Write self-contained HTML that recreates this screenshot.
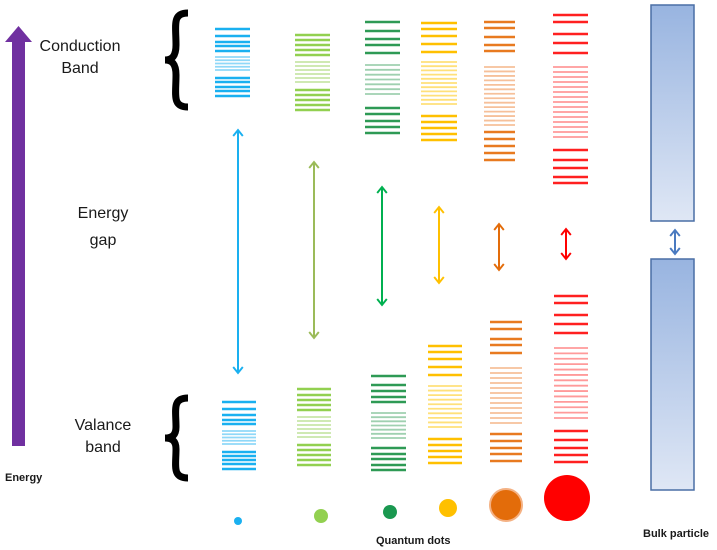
<!DOCTYPE html>
<html><head><meta charset="utf-8"><style>
html,body{margin:0;padding:0;background:#fff;width:717px;height:550px;overflow:hidden}
svg{display:block}
text{font-family:"Liberation Sans",sans-serif;fill:#1a1a1a}
</style></head><body>
<svg id="s" width="717" height="550" viewBox="0 0 717 550" xmlns="http://www.w3.org/2000/svg">
<defs>
<linearGradient id="g" x1="0" y1="0" x2="0" y2="1"><stop offset="0" stop-color="#98b4e0"/><stop offset="1" stop-color="#dfe7f5"/></linearGradient>
<marker id="m" viewBox="0 0 10 10" refX="6" refY="5" markerWidth="6" markerHeight="6" orient="auto-start-reverse"><path d="M1,1 L6,5 L1,9" fill="none" stroke="context-stroke" stroke-width="1.6"/></marker>
</defs>
<rect x="12" y="40" width="13" height="406" fill="#7030a0"/>
<polygon points="5,42 18.5,26 32,42" fill="#7030a0"/>
<text x="80" y="51" font-size="16" text-anchor="middle">Conduction</text>
<text x="80" y="73" font-size="16" text-anchor="middle">Band</text>
<text x="103" y="218" font-size="16" text-anchor="middle">Energy</text>
<text x="103" y="245" font-size="16" text-anchor="middle">gap</text>
<text x="103" y="430" font-size="16" text-anchor="middle">Valance</text>
<text x="103" y="452" font-size="16" text-anchor="middle">band</text>
<text x="5" y="481" font-size="11" font-weight="bold">Energy</text>
<text x="376" y="544" font-size="11" font-weight="bold">Quantum dots</text>
<text x="643" y="537" font-size="11" font-weight="bold">Bulk particle</text>
<path d="M188,13 C172,13 176,25 176,45 C176,56 172,60 165,60 C172,60 176,64 176,75 C176,95 172,107 188,107" fill="none" stroke="#000" stroke-width="7"/>
<path d="M188,398 C172,398 176,410 176,427 C176,435 172,438 165,438 C172,438 176,441 176,449 C176,466 172,478 188,478" fill="none" stroke="#000" stroke-width="7"/>
<rect x="651" y="5" width="43" height="216" fill="url(#g)" stroke="#4a6fa5" stroke-width="1.5"/>
<rect x="651" y="259" width="43" height="231" fill="url(#g)" stroke="#4a6fa5" stroke-width="1.5"/>
<line x1="675" y1="230" x2="675" y2="254" stroke="#4a7ac0" stroke-width="2" marker-start="url(#m)" marker-end="url(#m)"/>
<circle cx="238" cy="521" r="4" fill="#1ab0f0"/>
<circle cx="321" cy="516" r="7" fill="#92d050"/>
<circle cx="390" cy="512" r="7" fill="#1a9850"/>
<circle cx="448" cy="508" r="9" fill="#ffc000"/>
<circle cx="506" cy="505" r="16" fill="#e36c0a" stroke="#f4b183" stroke-width="2"/>
<circle cx="567" cy="498" r="23" fill="#ff0000"/>
<g id="L"></g>
</svg>
<script>
var L=document.getElementById('L'),h='';
function ln(x1,x2,ys,c,w){ys.forEach(function(y){h+='<line x1="'+x1+'" x2="'+x2+'" y1="'+y+'" y2="'+y+'" stroke="'+c+'" stroke-width="'+w+'"/>';});}
function rng(a,b,n){var r=[];for(var i=0;i<n;i++)r.push(a+(b-a)*i/(n-1));return r;}
function col(x1,x2,d,l,top,l1,l2,ln2,bot){ln(x1,x2,top,d,2.5);ln(x1,x2,rng(l1,l2,ln2),l,1.8);ln(x1,x2,bot,d,2.5);}
col(215,250,'#1ab0f0','#8fd8f8',[29,36,42,46,51],57,70,5,[78,82,87,91,96]);
col(295,330,'#92d050','#c8e6a8',[35,40,45,50,55],62,82,6,[90,95,100,105,110]);
col(365,400,'#2e9a55','#9fd0b0',[22,31,39,45,53],65,94,7,[108,114,121,127,133]);
col(421,457,'#ffc000','#ffe07a',[23,29,36,44,52],62,104,11,[116,122,128,134,140]);
col(484,515,'#e87a20','#f6c09a',[22,28,37,45,51],67,125,14,[132,139,146,153,160]);
col(553,588,'#ff2020','#ff9a9a',[15,22,34,43,53],67,137,15,[150,160,168,177,183]);
col(222,256,'#1ab0f0','#8fd8f8',[402,409,415,420,424],431,444,5,[452,456,460,464,469]);
col(297,331,'#92d050','#c8e6a8',[389,395,400,405,410],417,437,6,[445,450,455,460,465]);
col(371,406,'#2e9a55','#9fd0b0',[376,385,391,397,402],413,438,7,[448,454,459,465,470]);
col(428,462,'#ffc000','#ffe07a',[346,352,359,367,375],386,427,10,[439,445,451,457,463]);
col(490,522,'#e87a20','#f6c09a',[322,329,339,345,353],368,423,12,[434,441,448,454,461]);
col(554,588,'#ff2020','#ff9a9a',[296,303,315,324,333],348,418,14,[431,440,448,455,462]);
function ar(x,y1,y2,c){h+='<line x1="'+x+'" x2="'+x+'" y1="'+(y1+2)+'" y2="'+(y2-2)+'" stroke="'+c+'" stroke-width="2" marker-start="url(#m)" marker-end="url(#m)"/>';}
ar(238,128,375,'#1ab0f0');ar(314,160,340,'#9bbb59');ar(382,185,307,'#00b050');ar(439,205,285,'#ffc000');ar(499,222,272,'#e36c0a');ar(566,227,261,'#ff0000');
L.innerHTML=h;
</script>
</body></html>
